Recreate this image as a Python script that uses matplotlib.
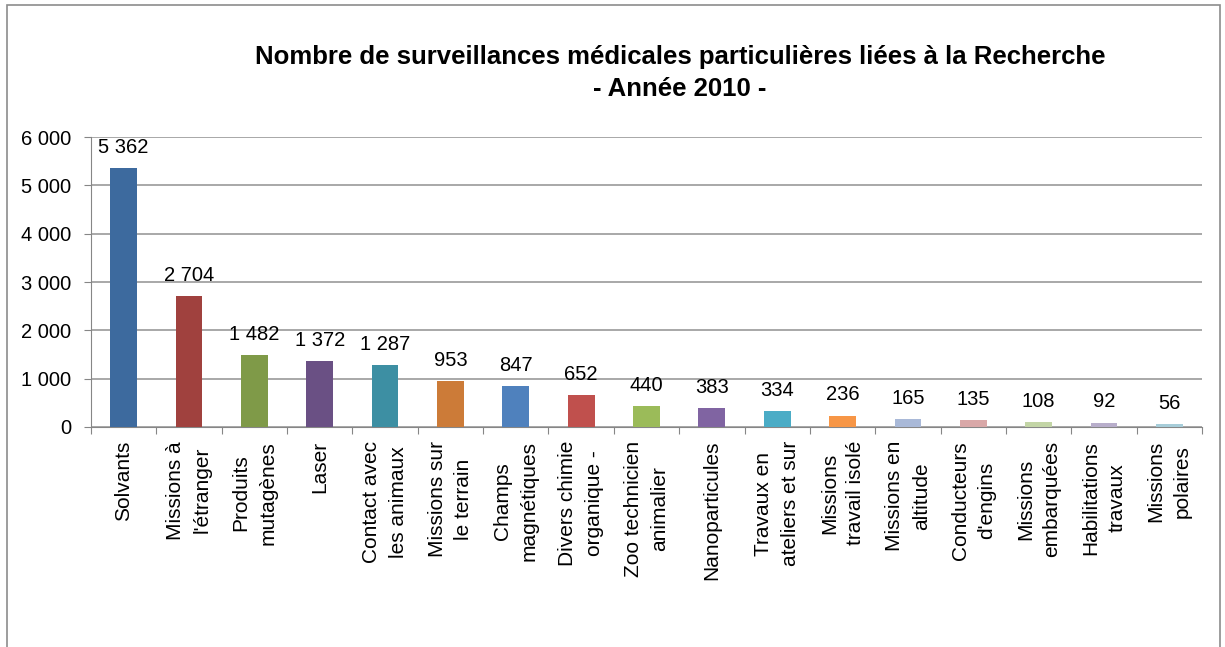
import matplotlib
matplotlib.use("Agg")
import matplotlib.pyplot as plt
from matplotlib.patches import Rectangle
from matplotlib.ticker import FuncFormatter
import numpy as np

plt.rcParams['font.family'] = ['Liberation Sans', 'DejaVu Sans']

# data
categories = [
    "Solvants", "Missions à\nl'étranger", "Produits\nmutagènes", "Laser",
    "Contact avec\nles animaux", "Missions sur\nle terrain", "Champs\nmagnétiques",
    "Divers chimie\norganique -", "Zoo technicien\nanimalier", "Nanoparticules",
    "Travaux en\nateliers et sur", "Missions\ntravail isolé", "Missions en\naltitude",
    "Conducteurs\nd'engins", "Missions\nembarquées", "Habilitations\ntravaux",
    "Missions\npolaires",
]
values = [5362, 2704, 1482, 1372, 1287, 953, 847, 652, 440, 383, 334, 236, 165, 135, 108, 92, 56]
colors = [
    "#3D6A9E", "#A0413E", "#7F9A48", "#6A5084", "#3D8FA3", "#CC7B38",
    "#4F81BD", "#C0504D", "#9BBB59", "#8064A2", "#4BACC6", "#F79646",
    "#A9B9D8", "#D9A8A8", "#C3D5A6", "#B8AECB", "#A7CDD9",
]
yticks = [0, 1000, 2000, 3000, 4000, 5000, 6000]

title = ("Nombre de surveillances médicales particulières liées à la Recherche\n"
         "- Année 2010 -")


def fmt_space(v, pos=None):
    return f"{int(v):,}".replace(",", " ")


fig = plt.figure(figsize=(12.25, 6.47), dpi=100)
ax = fig.add_axes([91 / 1225, 1 - 427 / 647, (1202 - 91) / 1225, (427 - 137) / 647])

x = np.arange(len(values))
ax.bar(x, values, width=0.41, color=colors, zorder=3)

for xi, v in zip(x, values):
    ax.annotate(fmt_space(v), (xi, v), xytext=(0, 8), textcoords="offset points",
                ha="center", va="bottom", fontsize=14.5, color="black")

ax.set_xlim(-0.5, len(values) - 0.5)
ax.set_ylim(0, 6000)
ax.set_yticks(yticks)
ax.yaxis.set_major_formatter(FuncFormatter(fmt_space))
ax.grid(axis="y", color="#999999", linewidth=1.2, zorder=0)

# category labels between boundary ticks
ax.set_xticks(np.arange(len(values) + 1) - 0.5)
ax.set_xticklabels([])
ax.set_xticks(x, minor=True)
ax.set_xticklabels(categories, minor=True, rotation=90, fontsize=15,
                   va="top", ha="center", multialignment="center", linespacing=1.5)
ax.tick_params(axis="x", which="minor", length=0, pad=10)
ax.tick_params(axis="x", which="major", length=5, color="#868686", direction="out")
ax.tick_params(axis="y", length=5, color="#868686", pad=9, labelsize=14.5)

for side in ["top", "right"]:
    ax.spines[side].set_visible(False)
for side in ["left", "bottom"]:
    ax.spines[side].set_color("#868686")

fig.text(680 / 1225, 1 - 73 / 647, title, ha="center", va="center",
         fontsize=18.5, fontweight="bold", linespacing=1.45)

# chart frame
fig.patches.append(Rectangle((7 / 1225, -0.1), (1220 - 7) / 1225, 1.1 - 5 / 647,
                             transform=fig.transFigure, fill=False,
                             edgecolor="#8C8C8C", linewidth=1.2))

fig.savefig("out.png", dpi=100)
